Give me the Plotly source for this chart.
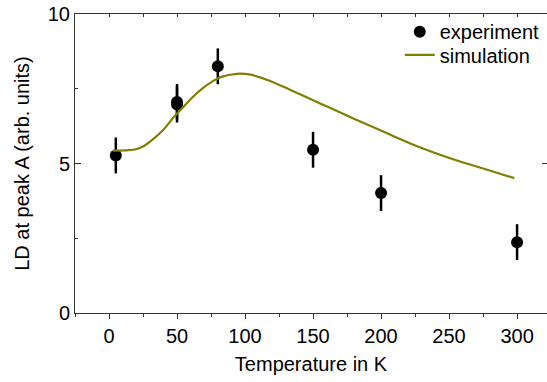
import plotly.graph_objects as go

# Experimental data
exp_T = [5, 50, 50, 80, 150, 200, 300]
exp_LD = [5.27, 6.97, 7.06, 8.25, 5.46, 4.01, 2.37]
exp_err = [0.6, 0.6, 0.6, 0.6, 0.6, 0.6, 0.6]

# Simulation curve
sim_T = [3, 18, 25, 32, 40, 47, 55, 62, 69, 77, 82, 94, 104, 118, 133, 148, 162, 180, 204, 228, 253, 278, 298]
sim_LD = [5.43, 5.46, 5.57, 5.80, 6.13, 6.52, 6.91, 7.24, 7.52, 7.77, 7.89, 8.00, 7.97, 7.77, 7.47, 7.16, 6.87, 6.50, 6.02, 5.55, 5.14, 4.79, 4.51]

x_ticks = [0, 50, 100, 150, 200, 250, 300]
y_ticks = [0, 5, 10]

FONT = "Arial, Liberation Sans, sans-serif"
AX = "#333333"
XR = [-25, 322]
YR = [0, 10]

fig = go.Figure()
fig.add_trace(go.Scatter(
    x=exp_T, y=exp_LD, mode="markers", name="experiment", legend="legend",
    marker=dict(color="black", size=12),
    error_y=dict(type="data", array=exp_err, color="black", thickness=2.5, width=0),
))
fig.add_trace(go.Scatter(
    x=sim_T, y=sim_LD, mode="lines", name="simulation", legend="legend2",
    line=dict(color="#808000", width=2.2, shape="spline", smoothing=0.8),
))
# invisible trace to activate mirror axes
fig.add_trace(go.Scatter(x=[XR[0]], y=[YR[0]], xaxis="x2", yaxis="y2",
                         mode="markers", marker=dict(opacity=0), showlegend=False,
                         hoverinfo="skip"))

legend_style = dict(xanchor="left", yanchor="middle", bgcolor="rgba(0,0,0,0)",
                    font=dict(size=20), itemsizing="trace")

fig.update_layout(
    width=547, height=382,
    margin=dict(l=75, r=0, t=14, b=69),
    paper_bgcolor="white", plot_bgcolor="white",
    font=dict(family=FONT, size=20, color="black"),
    showlegend=True,
    legend=dict(x=0.688, y=0.941, **legend_style),
    legend2=dict(x=0.688, y=0.863, **legend_style),
    xaxis=dict(range=XR, tickvals=x_ticks, ticks="outside", ticklen=5, tickwidth=1,
               tickcolor=AX, showline=True, linecolor=AX, linewidth=1,
               showgrid=False, zeroline=False, automargin=False,
               minor=dict(dtick=25, tick0=0, ticks="outside", ticklen=3, tickcolor=AX),
               title=dict(text="Temperature in K", standoff=10, font=dict(size=20)),
               tickfont=dict(size=20)),
    yaxis=dict(range=YR, tickvals=y_ticks, ticks="inside", ticklen=6, tickwidth=1,
               tickcolor=AX, showline=True, linecolor=AX, linewidth=1,
               showgrid=False, zeroline=False, automargin=False,
               minor=dict(dtick=2.5, tick0=0, ticks="inside", ticklen=3, tickcolor=AX),
               title=dict(text="LD at peak A (arb. units)", standoff=12, font=dict(size=20)),
               tickfont=dict(size=20)),
    xaxis2=dict(range=XR, overlaying="x", side="top", anchor="y2", dtick=25, tick0=0,
                ticks="inside", ticklen=3, tickcolor=AX, showticklabels=False,
                showline=True, linecolor=AX, linewidth=1, showgrid=False, zeroline=False,
                automargin=False),
    yaxis2=dict(range=YR, overlaying="y", side="right", anchor="x2", dtick=5, tick0=0,
                ticks="inside", ticklen=5, tickcolor=AX, showticklabels=False,
                showline=True, linecolor=AX, linewidth=1, showgrid=False, zeroline=False,
                automargin=False),
)

fig.write_html("out.html", config={"displayModeBar": False},
               post_script="document.body.style.margin='0px';")
